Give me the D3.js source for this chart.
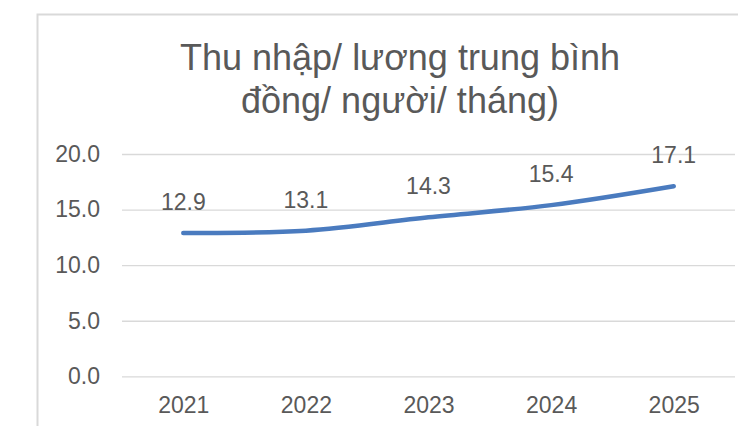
<!DOCTYPE html>
<html><head><meta charset="utf-8">
<script src="https://cdn.jsdelivr.net/npm/d3@7"></script>
<style>
html,body{margin:0;padding:0;background:#fff;}
svg{display:block;}
text{font-family:"Liberation Sans",Arial,sans-serif;fill:#595959;}
</style></head>
<body>
<svg id="c" width="738" height="426"></svg>
<script>
const years = ["2021","2022","2023","2024","2025"];
const values = [12.9, 13.1, 14.3, 15.4, 17.1];
const yTicks = [0, 5, 10, 15, 20];
const titleLines = ["Thu nhập/ lương trung bình", "đồng/ người/ tháng)"];

const svg = d3.select("#c");
// chart border (cropped on right/bottom)
svg.append("rect").attr("x",37.5).attr("y",14.5).attr("width",760).attr("height",440)
  .attr("fill","#fff").attr("stroke","#d9d9d9").attr("stroke-width",2);

const x = d3.scalePoint().domain(years).range([122, 735]).padding(0.5);
const y = d3.scaleLinear().domain([0,20]).range([376.3, 154]);

// title
svg.append("text").attr("x",400).attr("text-anchor","middle")
  .style("font-size","36px")
  .selectAll("tspan").data(titleLines).join("tspan")
  .attr("x",400).attr("y",(d,i)=>69.5+i*43.2).text(d=>d);

// gridlines
const yAxis = d3.axisLeft(y).tickValues(yTicks).tickFormat(d3.format(".1f"))
  .tickSize(-(735-122)).tickPadding(22);
const gy = svg.append("g").attr("transform","translate(122,0)").call(yAxis);
gy.select(".domain").remove();
gy.selectAll(".tick line").attr("stroke","#d9d9d9").attr("stroke-width",1.3);
gy.selectAll(".tick text").style("font-size","23px").attr("fill","#595959");

// x axis labels
const xAxis = d3.axisBottom(x).tickSize(0).tickPadding(0);
const gx = svg.append("g").attr("transform","translate(0,376.3)").call(xAxis);
gx.select(".domain").remove();
gx.selectAll(".tick text").style("font-size","23px").attr("fill","#595959")
  .attr("dy",null).attr("y",37);

// line
const line = d3.line().x((d,i)=>x(years[i])).y(d=>y(d)).curve(d3.curveCatmullRom.alpha(0.5));
svg.append("path").datum(values).attr("d",line).attr("fill","none")
  .attr("stroke","#4A7BBF").attr("stroke-width",4.5).attr("stroke-linecap","round").attr("stroke-linejoin","round");

// data labels
svg.append("g").selectAll("text").data(values).join("text")
  .attr("x",(d,i)=>x(years[i])).attr("y",d=>y(d)-23)
  .attr("text-anchor","middle").style("font-size","23px")
  .text(d=>d3.format(".1f")(d));
</script>
</body></html>
